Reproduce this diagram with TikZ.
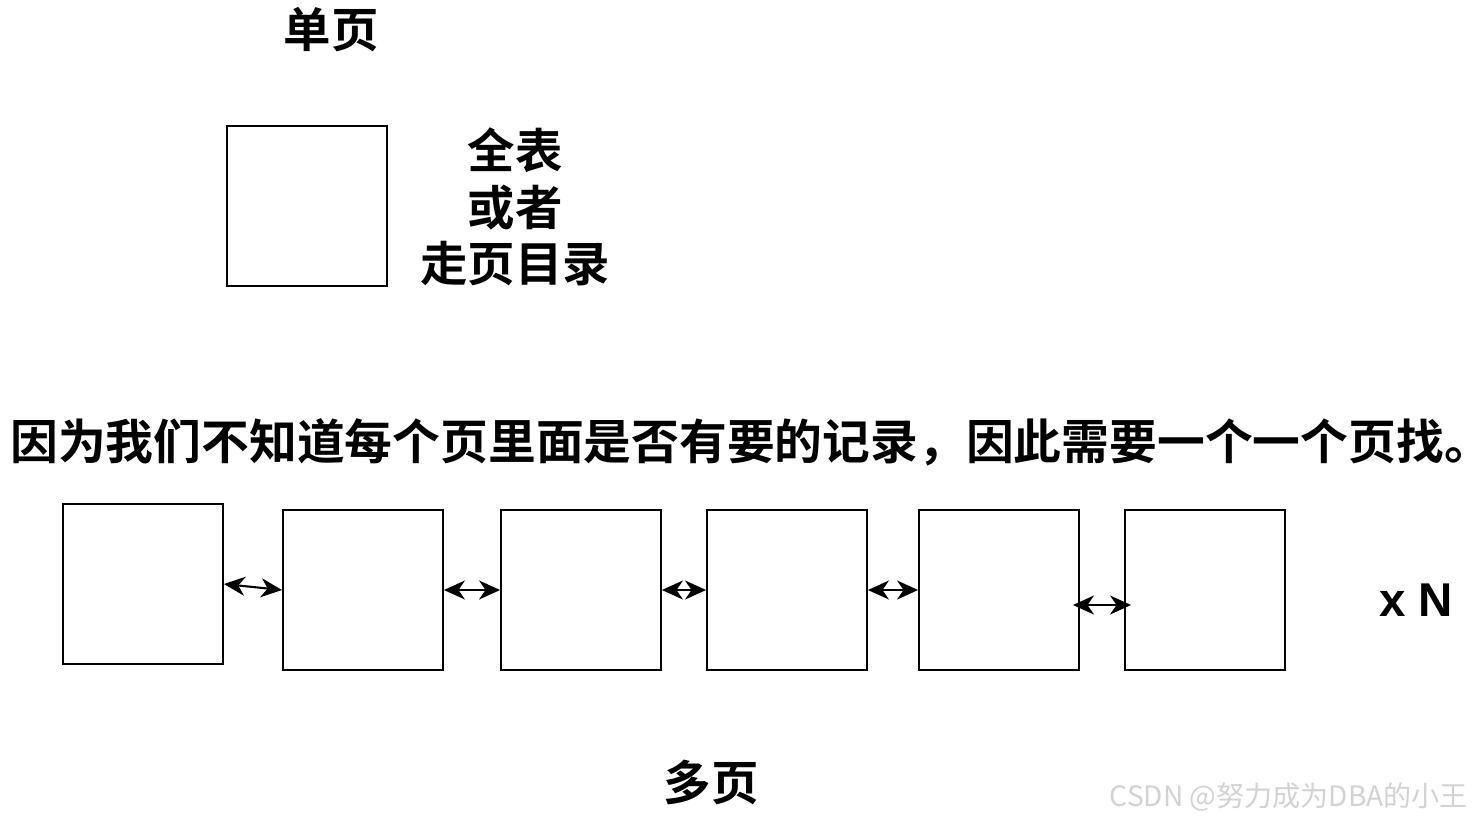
\documentclass[tikz,border=0pt]{standalone}
\usepackage{fontspec}
\setmainfont{Liberation Sans}
\newfontfamily\cjk{Noto Sans CJK SC Bold}
\newfontfamily\cjkthin{Noto Sans CJK SC}
\usetikzlibrary{arrows.meta}
\tikzset{
  page/.style={draw,line width=1.1pt,inner sep=0pt,minimum size=3.2cm},
  link/.style={line width=1.2pt,{Stealth[length=0.42cm,width=0.38cm,inset=0.13cm]}-{Stealth[length=0.42cm,width=0.38cm,inset=0.13cm]}},
  big/.style={font=\cjk\fontsize{27pt}{32.3pt}\selectfont,inner sep=0pt}
}
\begin{document}
\begin{tikzpicture}[x=0.02cm,y=-0.02cm]
      \useasboundingbox (0,0) rectangle (1474,823);
      % single page
      \path (331,30) node[big] (titleone) {单页};
      \path (307,206) node[page] (one) {};
      \path (515,207) node[big,align=center] (note) {全表\\或者\\走页目录};
      \path (10,442) node[big,anchor=west,font=\cjk\fontsize{27.2pt}{32pt}\selectfont] (reason) {因为我们不知道每个页里面是否有要的记录，因此需要一个一个页找\rlap{。}};
      % many pages
      \path (143,584) node[page] (b1) {};
      \path (363,590) node[page] (b2) {};
      \path (581,590) node[page] (b3) {};
      \path (787,590) node[page] (b4) {};
      \path (999,590) node[page] (b5) {};
      \path (1205,590) node[page] (b6) {};
      \draw[link] (b1.east) -- (b2.west);
      \draw[link] (b2.east) -- (b3.west);
      \draw[link] (b3.east) -- (b4.west);
      \draw[link] (b4.east) -- (b5.west);
      \draw[link] ([shift={(-0.14cm,-0.3cm)}]b5.east) -- ([shift={(0.14cm,-0.3cm)}]b6.west);
      \path (1416,600) node[font=\bfseries\fontsize{27pt}{32pt}\selectfont,inner sep=0pt] (times) {x N};
      \path (711,782) node[big] (titlemany) {多页};
      \path (1289,797) node[font=\cjkthin\fontsize{16pt}{19pt}\selectfont,text=gray!35,inner sep=0pt] (mark) {CSDN @努力成为DBA的小王};
\end{tikzpicture}
\end{document}
